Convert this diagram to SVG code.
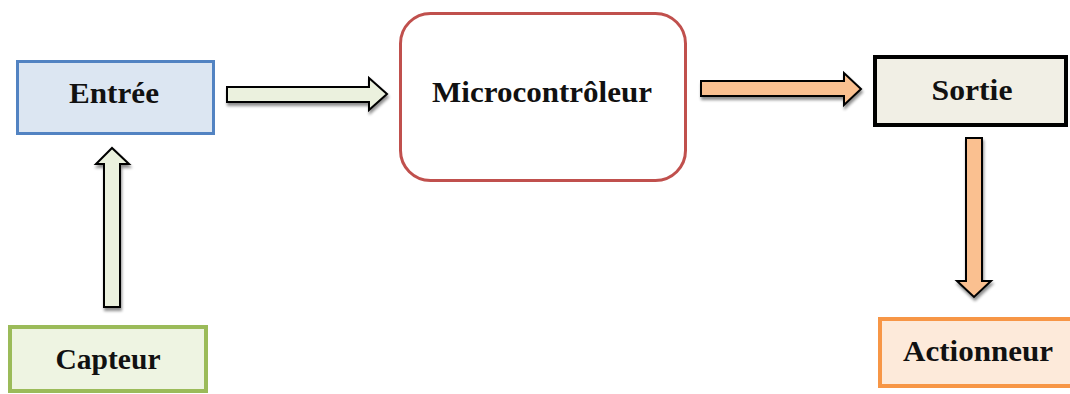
<svg xmlns="http://www.w3.org/2000/svg" width="1070" height="394" viewBox="0 0 1070 394">
  <defs>
    <filter id="sh" x="-20%" y="-20%" width="140%" height="160%">
      <feGaussianBlur in="SourceAlpha" stdDeviation="1.5"/>
      <feOffset dx="1" dy="3" result="b"/>
      <feComponentTransfer><feFuncA type="linear" slope="0.45"/></feComponentTransfer>
      <feMerge><feMergeNode/><feMergeNode in="SourceGraphic"/></feMerge>
    </filter>
  </defs>
  <style>
    .lbl { font-family: "Liberation Serif", "DejaVu Serif", serif; font-weight: bold; font-size: 30px; fill: #111111; text-anchor: middle; }
    .arr { stroke: #000000; stroke-width: 2; stroke-linejoin: miter; }
    .green { fill: #EBF1DE; }
    .orange { fill: #FAC090; }
  </style>
  <rect width="1070" height="394" fill="#FFFFFF"/>

  <g id="connectors">
    <polygon class="arr green" filter="url(#sh)" points="227,87 369,87 369,78 387,94 369,110 369,102 227,102"/>
    <polygon class="arr orange" filter="url(#sh)" points="701,81 844,81 844,73 861,89 844,105 844,96 701,96"/>
    <polygon class="arr green" filter="url(#sh)" points="104,307 104,164 96,164 112,148 129,164 120,164 120,307"/>
    <polygon class="arr orange" filter="url(#sh)" points="966,138 982,138 982,281 991,281 974,297 957,281 966,281"/>
  </g>

  <g id="entree">
    <rect x="17.5" y="61.5" width="196" height="72" fill="#DCE6F2" stroke="#5283C2" stroke-width="3"/>
    <text class="lbl" x="114" y="103" textLength="90" lengthAdjust="spacingAndGlyphs">Entrée</text>
  </g>

  <g id="microcontroleur">
    <rect x="400.5" y="13.5" width="285" height="167" rx="30" ry="30" fill="#FFFFFF" stroke="#C0504D" stroke-width="3"/>
    <text class="lbl" x="542" y="102" textLength="220" lengthAdjust="spacingAndGlyphs">Microcontrôleur</text>
  </g>

  <g id="sortie">
    <rect x="875" y="57" width="191" height="68" fill="#F1EFE5" stroke="#000000" stroke-width="4"/>
    <text class="lbl" x="972" y="100" textLength="81" lengthAdjust="spacingAndGlyphs">Sortie</text>
  </g>

  <g id="capteur">
    <rect x="10" y="327" width="196" height="64" fill="#EEF4E2" stroke="#9BBB59" stroke-width="4"/>
    <text class="lbl" x="108" y="369" textLength="105" lengthAdjust="spacingAndGlyphs">Capteur</text>
  </g>

  <g id="actionneur">
    <rect x="880" y="319" width="200" height="67" fill="#FDEADA" stroke="#F79646" stroke-width="4"/>
    <text class="lbl" x="978" y="361" textLength="150" lengthAdjust="spacingAndGlyphs">Actionneur</text>
  </g>
</svg>
